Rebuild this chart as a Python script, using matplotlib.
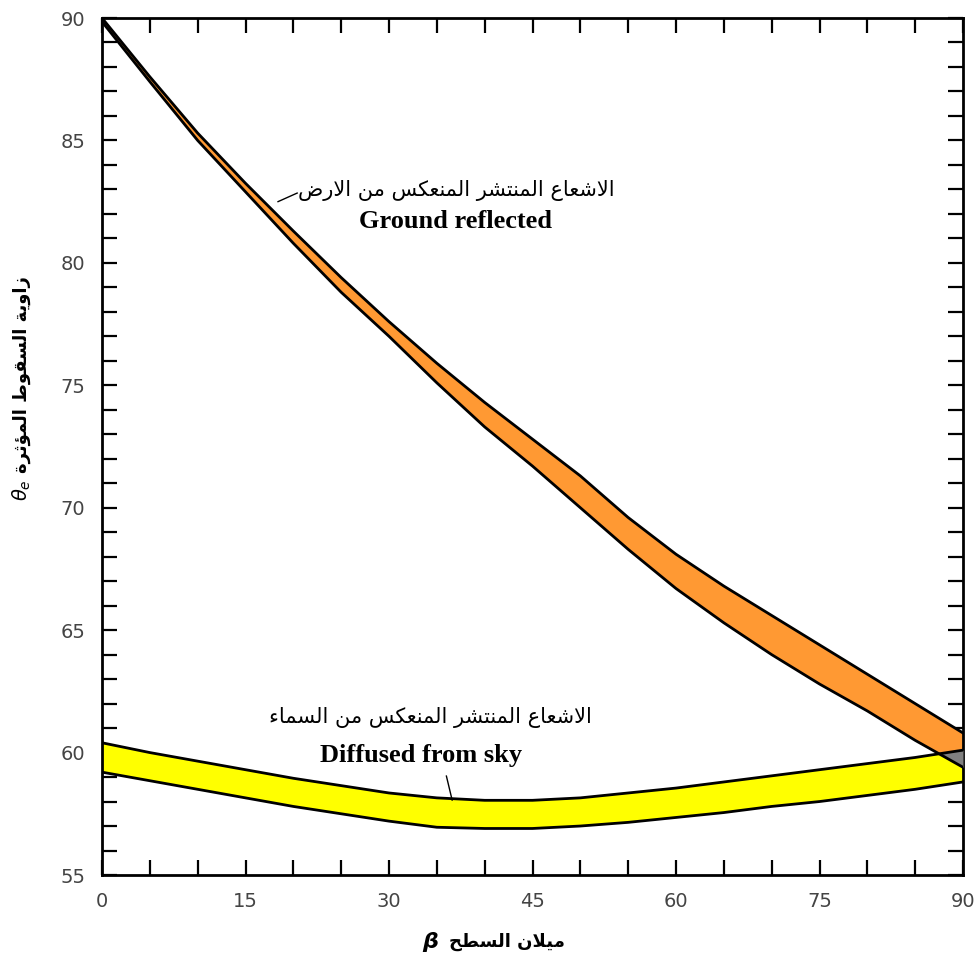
import numpy as np
import matplotlib
matplotlib.use("Agg")
import matplotlib.pyplot as plt
from matplotlib.ticker import MultipleLocator

# Surface tilt (deg) and effective incidence angle bands (deg)
beta = [0, 5, 10, 15, 20, 25, 30, 35, 40, 45, 50, 55, 60, 65, 70, 75, 80, 85, 90]
ground_top = [90.0, 87.6, 85.3, 83.25, 81.3, 79.4, 77.6, 75.9, 74.3, 72.8,
              71.3, 69.6, 68.1, 66.8, 65.6, 64.4, 63.2, 62.0, 60.8]
ground_bot = [89.85, 87.4, 85.0, 82.9, 80.8, 78.8, 77.0, 75.1, 73.3, 71.7,
              70.0, 68.3, 66.7, 65.3, 64.0, 62.8, 61.7, 60.5, 59.4]
sky_top = [60.4, 60.0, 59.65, 59.3, 58.95, 58.65, 58.35, 58.15, 58.05, 58.05,
           58.15, 58.35, 58.55, 58.8, 59.05, 59.3, 59.55, 59.8, 60.1]
sky_bot = [59.2, 58.85, 58.5, 58.15, 57.8, 57.5, 57.2, 56.95, 56.9, 56.9,
           57.0, 57.15, 57.35, 57.55, 57.8, 58.0, 58.25, 58.5, 58.8]

ground_ar = "الاشعاع المنتشر المنعكس من الارض"
ground_en = "Ground reflected"
sky_ar = "الاشعاع المنتشر المنعكس من السماء"
sky_en = "Diffused from sky"
ylabel_ar = "زاوية السقوط المؤثرة"
xlabel_ar = "ميلان السطح"

# --- tiny Arabic shaper (matplotlib does no shaping / bidi) ---
DUAL = {'ت': 0xFE95, 'ث': 0xFE99, 'ح': 0xFEA1, 'س': 0xFEB1, 'ش': 0xFEB5,
        'ض': 0xFEBD, 'ط': 0xFEC1, 'ع': 0xFEC9, 'ق': 0xFED5, 'ك': 0xFED9,
        'ل': 0xFEDD, 'م': 0xFEE1, 'ن': 0xFEE5, 'ي': 0xFEF1}
RIGHT = {'ا': 0xFE8D, 'ة': 0xFE93, 'ر': 0xFEAD, 'ز': 0xFEAF, 'و': 0xFEED,
         'ؤ': 0xFE85, 'LA': 0xFEFB}
NONE = {'ء': 0xFE80}


def shape(text):
    chars = []
    i = 0
    while i < len(text):
        if text[i] == 'ل' and i + 1 < len(text) and text[i + 1] == 'ا':
            chars.append('LA')
            i += 2
        else:
            chars.append(text[i])
            i += 1
    out = []
    for k, c in enumerate(chars):
        if c not in DUAL and c not in RIGHT:
            out.append(chr(NONE[c]) if c in NONE else c)
            continue
        prev = chars[k - 1] if k > 0 else None
        nxt = chars[k + 1] if k + 1 < len(chars) else None
        jp = prev in DUAL
        jn = c in DUAL and (nxt in DUAL or nxt in RIGHT)
        if c in DUAL:
            base = DUAL[c]
            form = 3 if (jp and jn) else 1 if jp else 2 if jn else 0
        else:
            base = RIGHT[c]
            form = 1 if jp else 0
        out.append(chr(base + form))
    return ''.join(out)[::-1]


W, H = 979, 964
fig = plt.figure(figsize=(W / 100, H / 100), dpi=100)
ax = fig.add_axes([102 / W, 1 - 875 / H, (963 - 102) / W, (875 - 18) / H])

orange = '#FF9933'
yellow = '#FFFF00'

ax.fill_between(beta, ground_bot, ground_top, color=orange, lw=0, zorder=2)
ax.fill_between(beta, sky_bot, sky_top, color=yellow, lw=0, zorder=2)
lo = np.maximum(ground_bot, sky_bot)
hi = np.minimum(ground_top, sky_top)
ax.fill_between(beta, lo, hi, where=hi > lo, interpolate=True,
                color='#808080', lw=0, zorder=3)
for s in (ground_top, ground_bot, sky_top, sky_bot):
    ax.plot(beta, s, color='black', lw=2, zorder=4)

ax.set_xlim(0, 90)
ax.set_ylim(55, 90)
ax.xaxis.set_major_locator(MultipleLocator(15))
ax.xaxis.set_minor_locator(MultipleLocator(5))
ax.yaxis.set_major_locator(MultipleLocator(5))
ax.yaxis.set_minor_locator(MultipleLocator(1))
ax.tick_params(which='both', direction='in', top=True, right=True,
               length=11, width=1.6, color='black')
ax.tick_params(which='major', labelsize=14, labelcolor='#444444', pad=12)
for sp in ax.spines.values():
    sp.set_linewidth(2)

# annotations
ax.text(37.0, 82.97, shape(ground_ar), ha='center', va='center',
        fontsize=15, family='DejaVu Sans', zorder=5)
ax.text(37.0, 81.7, ground_en, ha='center', va='center', fontsize=19,
        fontweight='bold', family='Liberation Serif', zorder=5)
ax.plot([18.4, 20.4], [82.5, 82.85], color='black', lw=1, zorder=5)

ax.text(34.3, 61.45, shape(sky_ar), ha='center', va='center',
        fontsize=15, family='DejaVu Sans', zorder=5)
ax.text(33.4, 59.86, sky_en, ha='center', va='center', fontsize=19,
        fontweight='bold', family='Liberation Serif', zorder=5)
ax.plot([36.0, 36.6], [59.04, 58.06], color='black', lw=1, zorder=5)

# axis labels
fig.text(22 / W, 1 - 375 / H, shape(ylabel_ar), rotation=90, ha='center',
         va='center', fontsize=13, fontweight='bold', family='DejaVu Sans')
fig.text(22 / W, 1 - 490 / H, r'$\theta_e$', rotation=90, ha='center',
         va='center', fontsize=14)
fig.text(507 / W, 1 - 942 / H, shape(xlabel_ar), ha='center', va='center',
         fontsize=13, fontweight='bold', family='DejaVu Sans')
fig.text(430 / W, 1 - 942 / H, 'β', ha='center', va='center', fontsize=16,
         fontweight='bold', fontstyle='italic', family='DejaVu Sans')

fig.savefig('out.png', dpi=100)
